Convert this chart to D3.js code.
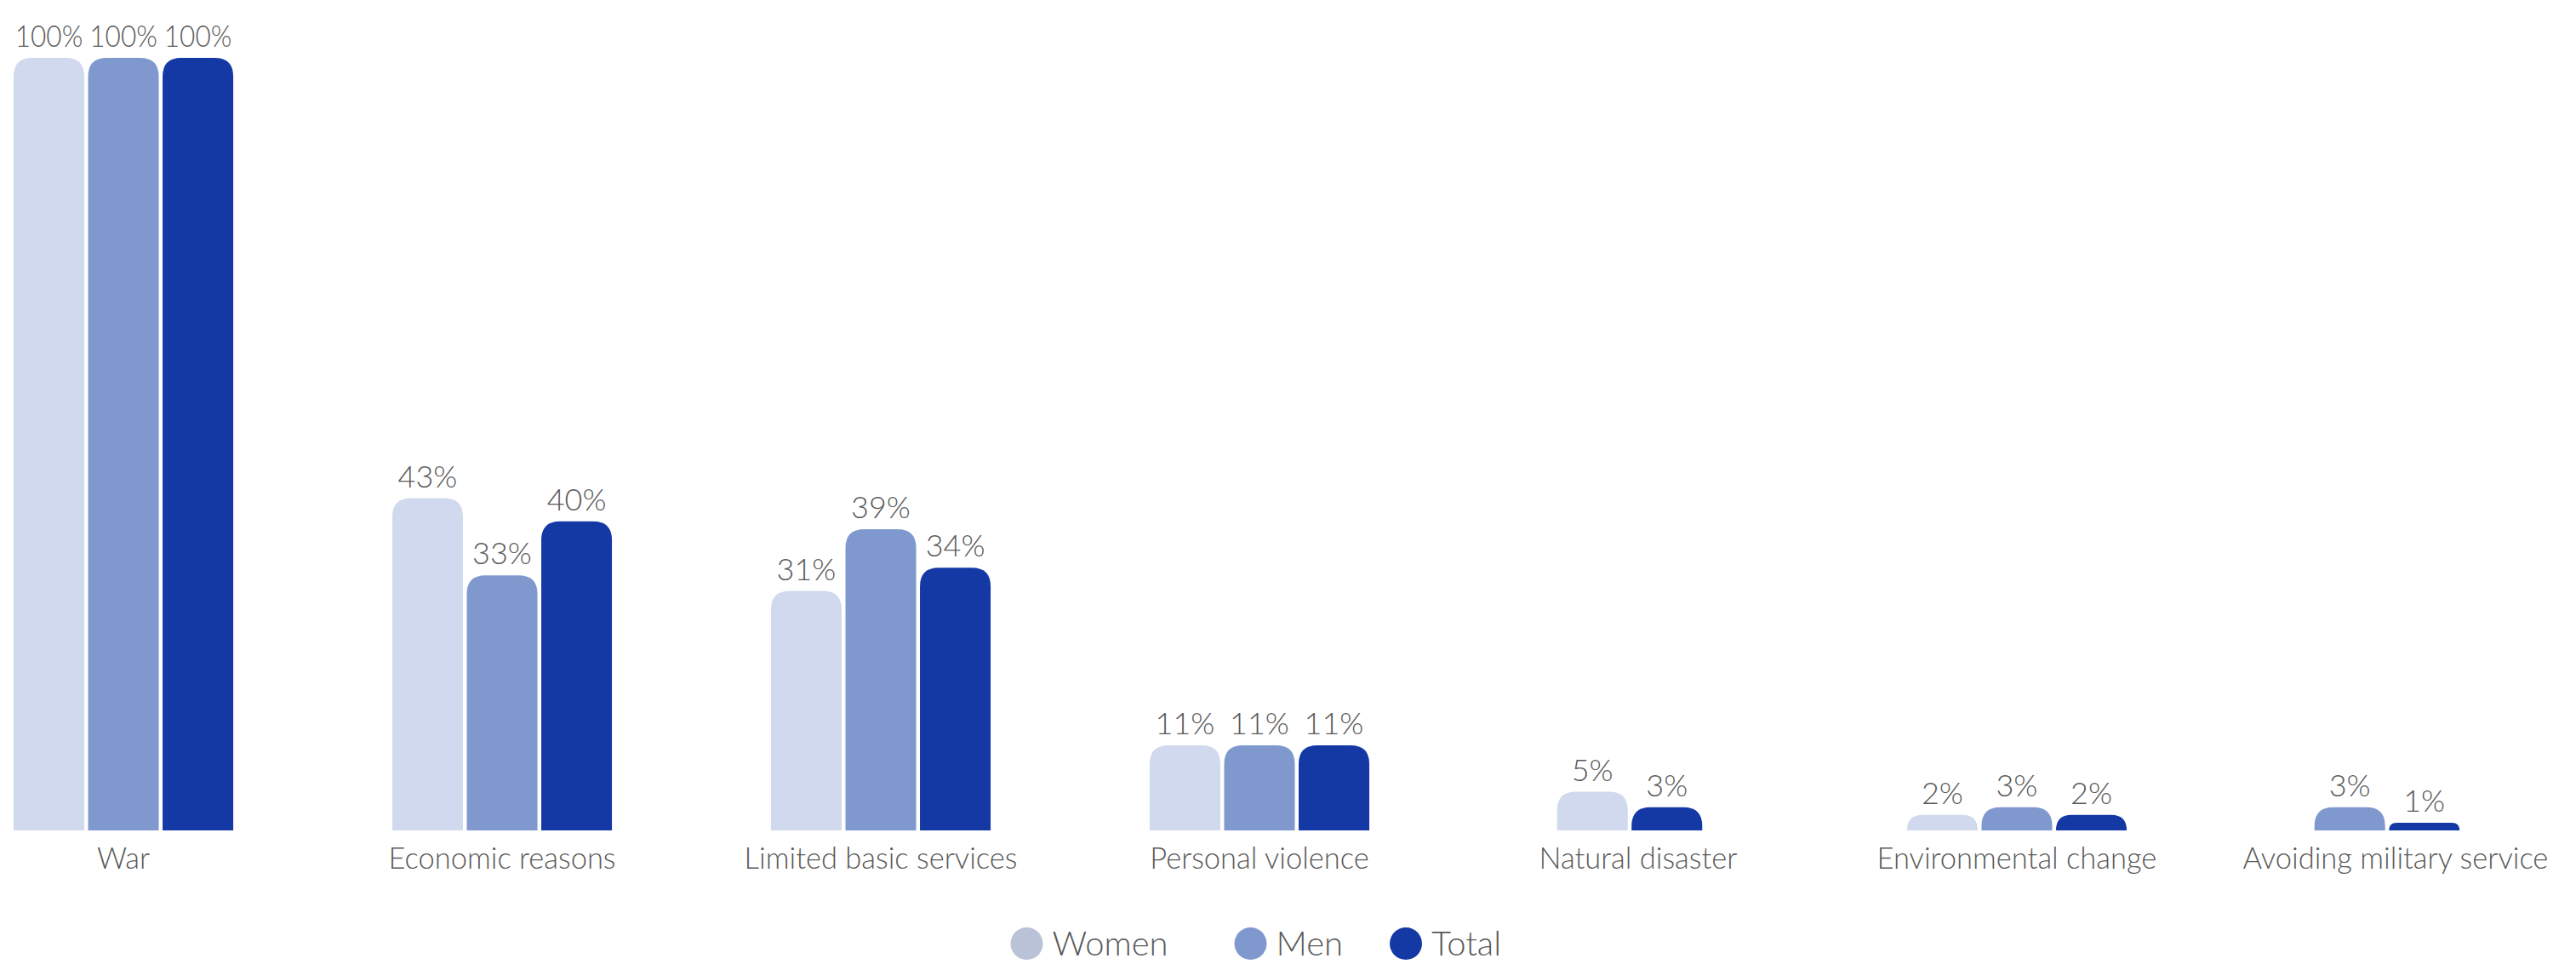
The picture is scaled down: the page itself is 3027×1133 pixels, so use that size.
<!DOCTYPE html>
<html>
<head>
<meta charset="utf-8">
<script src="https://cdn.jsdelivr.net/npm/d3@7"></script>
<style>
  html, body { margin: 0; padding: 0; background: #ffffff; }
  svg { display: block; }
  text { font-family: Lato, "Open Sans", sans-serif; font-weight: 300; fill: #595959; }
</style>
</head>
<body>
<svg id="chart"></svg>
<script>
// Reasons for leaving, share of respondents (%) by group
const categories = [
  "War",
  "Economic reasons",
  "Limited basic services",
  "Personal violence",
  "Natural disaster",
  "Environmental change",
  "Avoiding military service"
];
const seriesNames = ["Women", "Men", "Total"];
const women = [100, 43, 31, 11, 5, 2, null];
const men   = [100, 33, 39, 11, null, 3, 3];
const total = [100, 40, 34, 11, 3, 2, 1];

const barColors    = { Women: "#D0D9ED", Men: "#7F99CF", Total: "#1439A5" };
const legendColors = { Women: "#B9C2D6", Men: "#7F99CF", Total: "#1439A5" };

const W = 3027, H = 1133;
const svg = d3.select("#chart").attr("width", W).attr("height", H);
svg.append("rect").attr("width", W).attr("height", H).attr("fill", "#fff");

const seriesValues = { Women: women, Men: men, Total: total };
const rows = categories.map((c, i) => ({
  category: c,
  bars: seriesNames
    .filter(s => seriesValues[s][i] !== null)
    .map(s => ({ series: s, value: seriesValues[s][i] }))
}));

const x0 = d3.scaleBand().domain(categories).range([16, 2944]).paddingInner(0.42).paddingOuter(0);
const y = d3.scaleLinear().domain([0, 100]).range([976, 68]);

const innerPad = 0.0514;
const slotStep = x0.bandwidth() / (seriesNames.length - innerPad);

// Rounded-top bar path
function barPath(x, yTop, w, h, r) {
  r = Math.min(r, h, w / 2);
  const yb = yTop + h;
  return `M${x},${yb}V${yTop + r}Q${x},${yTop} ${x + r},${yTop}H${x + w - r}Q${x + w},${yTop} ${x + w},${yTop + r}V${yb}Z`;
}

const groups = svg.selectAll("g.group").data(rows).join("g").attr("class", "group");

groups.each(function(d) {
  const g = d3.select(this);
  const cx = x0(d.category) + x0.bandwidth() / 2;
  const n = d.bars.length;
  const width = slotStep * (n - innerPad);
  // groups with a missing series sit slightly left of the band centre
  const shift = (seriesNames.length - n) * -10;
  const x1 = d3.scaleBand()
    .domain(d.bars.map(b => b.series))
    .range([cx - width / 2 + shift, cx + width / 2 + shift])
    .paddingInner(innerPad).paddingOuter(0);

  g.selectAll("path.bar").data(d.bars).join("path")
    .attr("class", "bar")
    .attr("fill", b => barColors[b.series])
    .attr("d", b => barPath(x1(b.series), y(b.value), x1.bandwidth(), y(0) - y(b.value), 22));

  g.selectAll("text.value").data(d.bars).join("text")
    .attr("class", "value")
    .attr("x", b => x1(b.series) + x1.bandwidth() / 2)
    .attr("y", b => y(b.value) - 13)
    .attr("text-anchor", "middle")
    .attr("font-size", 36)
    .text(b => b.value + "%");

  g.append("text")
    .attr("x", cx)
    .attr("y", 1021)
    .attr("text-anchor", "middle")
    .attr("font-size", 34.5)
    .text(d.category);
});

// Value labels: keep them within their bar slot
svg.selectAll("text.value").each(function() {
  const maxW = slotStep - 8;
  const len = this.getComputedTextLength();
  if (len > maxW) d3.select(this).attr("textLength", maxW).attr("lengthAdjust", "spacingAndGlyphs");
});

// Legend
const legendItems = [
  { name: "Women", cx: 1206.5 },
  { name: "Men", cx: 1469.5 },
  { name: "Total", cx: 1652 }
];
const legend = svg.append("g").attr("class", "legend");
const li = legend.selectAll("g").data(legendItems).join("g");
li.append("circle")
  .attr("cx", d => d.cx).attr("cy", 1109).attr("r", 19)
  .attr("fill", d => legendColors[d.name]);
li.append("text")
  .attr("x", d => d.cx + 30).attr("y", 1123)
  .attr("font-size", 40)
  .text(d => d.name);
</script>
</body>
</html>
